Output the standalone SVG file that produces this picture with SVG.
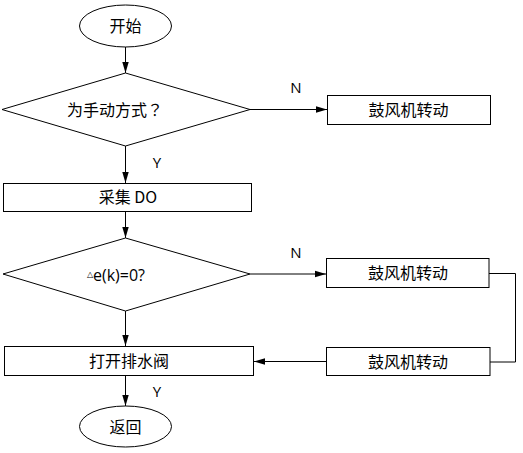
<svg xmlns="http://www.w3.org/2000/svg" width="523" height="453" viewBox="0 0 523 453">
<style>
.s{fill:#fff;stroke:#000;stroke-width:1}
.t{font-family:"Noto Sans CJK SC","Open Sans",sans-serif;font-size:16px;fill:#000;text-anchor:middle}
.l{font-family:"Open Sans","Liberation Sans",sans-serif;font-size:15px;fill:#000;text-anchor:middle}
.c{fill:none;stroke:#000;stroke-width:1}
</style>
<defs>
<marker id="a" markerWidth="12" markerHeight="8" refX="11" refY="4" orient="auto" markerUnits="userSpaceOnUse">
<path d="M0,0.8 L11,4 L0,7.2 Z" fill="#000"/>
</marker>
</defs>
<rect width="523" height="453" fill="#fff"/>
<g id="connectors">
<line class="c" x1="125.5" y1="47" x2="125.5" y2="73" marker-end="url(#a)"/>
<line class="c" x1="250" y1="109.5" x2="327" y2="109.5" marker-end="url(#a)"/>
<line class="c" x1="125.5" y1="146" x2="125.5" y2="183" marker-end="url(#a)"/>
<line class="c" x1="125.5" y1="211" x2="125.5" y2="238" marker-end="url(#a)"/>
<line class="c" x1="250" y1="274" x2="326" y2="274" marker-end="url(#a)"/>
<line class="c" x1="125.5" y1="311" x2="125.5" y2="346" marker-end="url(#a)"/>
<polyline class="c" points="489,273.5 515.5,273.5 515.5,362 490,362"/>
<line class="c" x1="326" y1="361.5" x2="254" y2="361.5" marker-end="url(#a)"/>
<line class="c" x1="125.5" y1="375" x2="125.5" y2="406" marker-end="url(#a)"/>
<text class="l" x="296" y="93">N</text>
<text class="l" x="157" y="168">Y</text>
<text class="l" x="296" y="258">N</text>
<text class="l" x="157" y="397">Y</text>
</g>
<g id="start">
<ellipse class="s" cx="125.5" cy="26" rx="46" ry="21"/>
<text class="t" x="125.5" y="31.5">开始</text>
</g>
<g id="decision1">
<polygon class="s" points="125.5,73 250,109.5 125.5,146 2,109.5"/>
<text class="t" x="115" y="115.5">为手动方式<tspan font-family="Noto Sans CJK TC, sans-serif">？</tspan></text>
</g>
<g id="fan1">
<rect class="s" x="327.5" y="95.5" width="163" height="29"/>
<text class="t" x="408.5" y="115.5">鼓风机转动</text>
</g>
<g id="collect">
<rect class="s" x="3.5" y="183.5" width="248" height="28"/>
<text class="t" x="128" y="203">采集 DO</text>
</g>
<g id="decision2">
<polygon class="s" points="125.5,238 250,274 125.5,311 3,274"/>
<text class="l" x="116" y="280.5" style="font-size:16px"><tspan style="font-size:8px" dy="-4">△</tspan><tspan dy="4">e(k)=0?</tspan></text>
</g>
<g id="fan2">
<rect class="s" x="326.5" y="258.5" width="162.5" height="29"/>
<text class="t" x="408" y="279">鼓风机转动</text>
</g>
<g id="fan3">
<rect class="s" x="326.5" y="347.5" width="163.5" height="28"/>
<text class="t" x="408" y="367.5">鼓风机转动</text>
</g>
<g id="drain">
<rect class="s" x="4.5" y="346.5" width="249" height="29"/>
<text class="t" x="129" y="366.5">打开排水阀</text>
</g>
<g id="end">
<ellipse class="s" cx="125.5" cy="426.5" rx="46" ry="20.5"/>
<text class="t" x="125.5" y="432.5">返回</text>
</g>
</svg>
